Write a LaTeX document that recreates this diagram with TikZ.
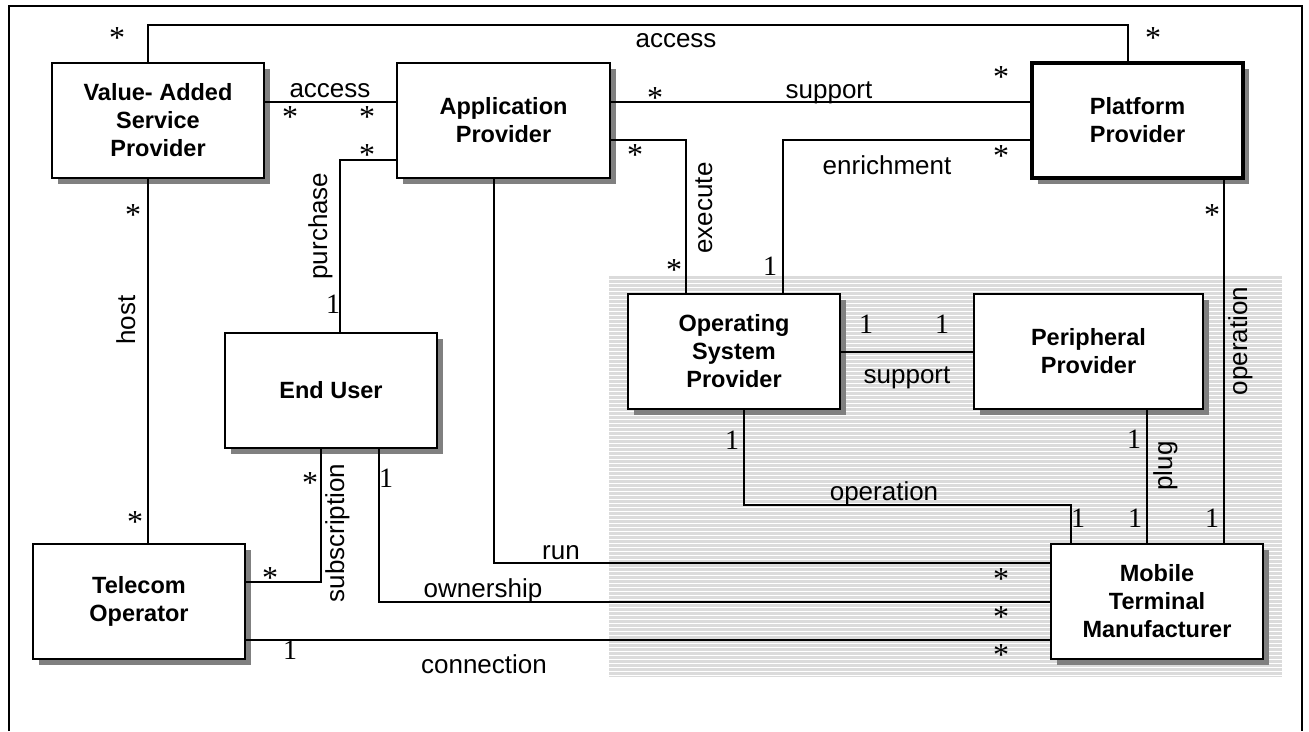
\documentclass[tikz,border=0pt]{standalone}
\usepackage{fontspec}
\usetikzlibrary{shadows}
\newfontfamily\arialf{Liberation Sans}
\newfontfamily\timesf{Liberation Serif}
\begin{document}
\begin{tikzpicture}[x=1pt,y=-1pt,
  box/.style={draw, line width=2pt, fill=white, minimum width=212pt,
    minimum height=115pt, inner sep=0pt, align=center,
    font=\arialf\bfseries\fontsize{23.5}{28}\selectfont,
    drop shadow={shadow xshift=6pt, shadow yshift=-6pt, opacity=1, fill=black!50}},
  conn/.style={line width=1.7pt},
  lbl/.style={font=\arialf\fontsize{26}{30}\selectfont, inner sep=0pt, anchor=base},
  vlbl/.style={lbl, rotate=90},
  mult/.style={font=\timesf\fontsize{28}{30}\selectfont, inner sep=0pt, anchor=base},
  many/.style={font=\timesf\fontsize{32}{34}\selectfont, inner sep=0pt, anchor=base, yshift=-2pt}]
\useasboundingbox (0,0) rectangle (1309,731);

% striped background of the terminal-side area
\fill[black!14] (609,276) rectangle (1282,677);
\foreach \k in {0,...,99}
  \draw[white, line width=1pt] (609,{276+4*\k+3.5}) -- (1282,{276+4*\k+3.5});

% outer frame (open at the bottom)
\draw[line width=2.5pt] (9,731) -- (9,6) -- (1302,6) -- (1302,731);

% actors
\node[box] (vas) at (158,120.5) {Value- Added\\Service\\Provider};
\node[box, minimum width=213pt] (app) at (503.5,120.5) {Application\\Provider};
\node[box, minimum width=211pt, line width=4pt] (plat) at (1137.5,120.5) {Platform\\Provider};
\node[box] (os) at (734,351.5) {Operating\\System\\Provider};
\node[box, minimum width=229pt] (per) at (1088.5,351.5) {Peripheral\\Provider};
\node[box] (eu) at (331,390.5) {End User};
\node[box] (tel) at (139,601.5) {Telecom\\Operator};
\node[box] (mtm) at (1157,601.5) {Mobile\\Terminal\\Manufacturer};

% associations
\draw[conn] (vas.north -| 148,0) |- (1128,25) -- (plat.north -| 1128,0);
\draw[conn] (vas.east |- 0,102) -- (app.west |- 0,102);
\draw[conn] (app.west |- 0,160) -| (eu.north -| 340,0);
\draw[conn] (app.east |- 0,102) -- (plat.west |- 0,102);
\draw[conn] (app.east |- 0,140) -| (os.north -| 686,0);
\draw[conn] (plat.west |- 0,140) -| (os.north -| 783,0);
\draw[conn] (plat.south -| 1224,0) -- (mtm.north -| 1224,0);
\draw[conn] (vas.south -| 148,0) -- (tel.north -| 148,0);
\draw[conn] (os.east |- 0,352) -- (per.west |- 0,352);
\draw[conn] (os.south -| 744,0) |- (1071,505) -- (mtm.north -| 1071,0);
\draw[conn] (per.south -| 1147,0) -- (mtm.north -| 1147,0);
\draw[conn] (app.south -| 494,0) |- (mtm.west |- 0,563);
\draw[conn] (eu.south -| 379,0) |- (mtm.west |- 0,602);
\draw[conn] (eu.south -| 321,0) |- (tel.east |- 0,582);
\draw[conn] (tel.east |- 0,640) -- (mtm.west |- 0,640);

% association names
\node[lbl] (l1) at (676,47) {access};
\node[lbl] (l2) at (330,97) {access};
\node[lbl] (l3) at (829,98) {support};
\node[lbl] (l4) at (887,174) {enrichment};
\node[lbl] (l5) at (907,383) {support};
\node[lbl] (l6) at (884,500) {operation};
\node[lbl] (l7) at (561,559) {run};
\node[lbl] (l8) at (483,597) {ownership};
\node[lbl] (l9) at (484,673) {connection};
\node[vlbl] (v1) at (327,226) {purchase};
\node[vlbl] (v2) at (712,208) {execute};
\node[vlbl] (v3) at (135,320) {host};
\node[vlbl] (v4) at (344,533) {subscription};
\node[vlbl] (v5) at (1247,341) {operation};
\node[vlbl] (v6) at (1172,466) {plug};

% multiplicities
\foreach \p [count=\i] in {{117,46},{1153,46},{290,125},{367,125},{367,163},
    {655,106},{1001,85},{635,163},{1001,164},{674,278},{1212,223},{133,223},
    {135,530},{310,491},{270,586},{1001,587},{1001,625},{1001,663}}
  \node[many] (s\i) at (\p) {*};
\foreach \p [count=\i] in {{333,313},{770,275},{866,333},{942,333},{732,449},
    {1134,448},{386,487},{1078,527},{1135,527},{1212,527},{290,659}}
  \node[mult] (o\i) at (\p) {1};
\end{tikzpicture}
\end{document}
